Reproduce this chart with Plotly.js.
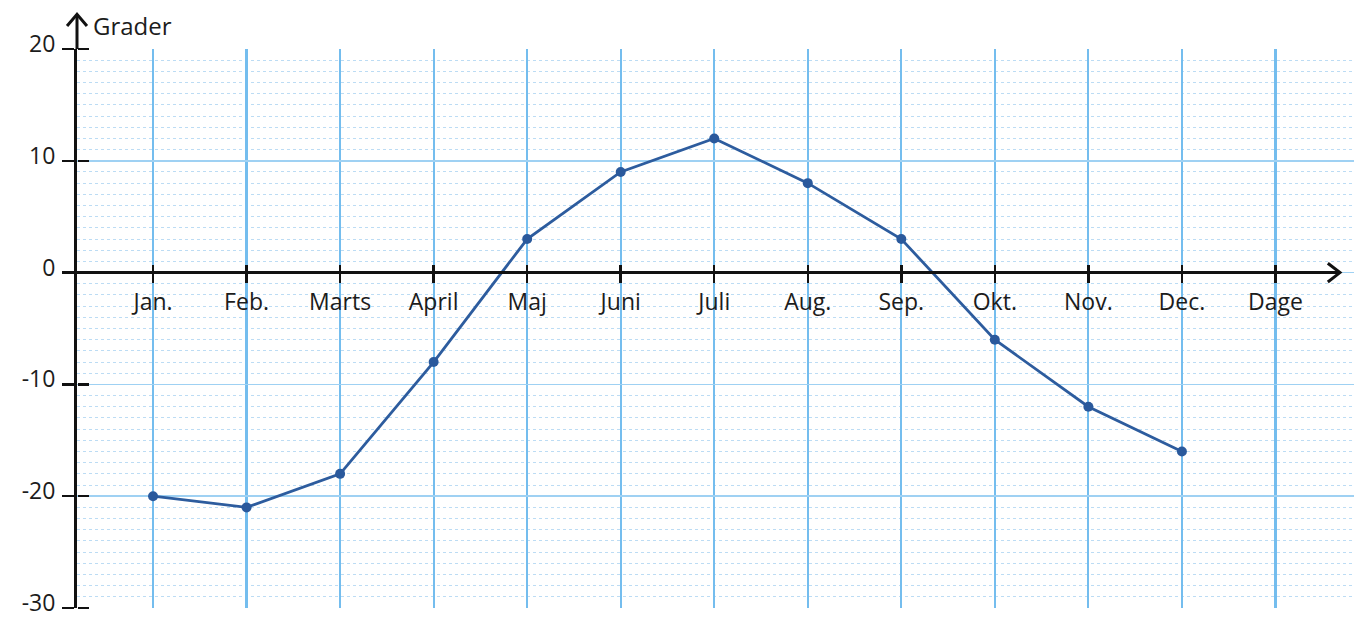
<!DOCTYPE html>
<html>
<head>
<meta charset="utf-8">
<script src="https://cdn.plot.ly/plotly-3.0.1.min.js"></script>
<style>html,body{margin:0;padding:0;background:#fff;}#chart{width:1354px;height:623px;}</style>
</head>
<body>
<div id="chart"></div>
<script>
const months = ["Jan.", "Feb.", "Marts", "April", "Maj", "Juni", "Juli", "Aug.", "Sep.", "Okt.", "Nov.", "Dec."];
const temperatures = [-20, -21, -18, -8, 3, 9, 12, 8, 3, -6, -12, -16];
const xTickText = months.concat(["Dage"]);
const yTickVals = [-30, -20, -10, 0, 10, 20];
const yTickText = ["-30", "-20", "-10", "0", "10", "20"];

const xIdx = months.map((m, i) => i + 1);
const xTickVals = xTickText.map((m, i) => i + 1);

const FONT = '"Open Sans", "DejaVu Sans", sans-serif';
const xRange = [0.187, 13.84];
const yRange = [-30, 20];

const traces = [
  {
    x: xIdx, y: temperatures, type: 'scatter', mode: 'lines+markers',
    line: {color: '#2d5c9e', width: 2.8},
    marker: {color: '#2a599c', size: 10},
    hoverinfo: 'skip', xaxis: 'x', yaxis: 'y', cliponaxis: false
  },
  {x: [xRange[0]], y: [yRange[0]], type: 'scatter', mode: 'markers', marker: {opacity: 0}, xaxis: 'x2', yaxis: 'y2', hoverinfo: 'skip', showlegend: false}
];

const layout = {
  width: 1354, height: 623,
  margin: {l: 77, r: 0, t: 49, b: 15, pad: 0},
  paper_bgcolor: '#ffffff', plot_bgcolor: '#ffffff',
  showlegend: false,
  font: {family: FONT, size: 23, color: '#1c1c1c'},
  xaxis: {
    range: xRange, anchor: 'free', position: 0.6,
    tickvals: xTickVals, ticktext: xTickText,
    showgrid: true, gridcolor: '#74bdee', gridwidth: 2.2,
    showline: false, zeroline: false,
    ticks: 'outside', ticklen: 9, tickwidth: 2.5, tickcolor: '#111',
    tickfont: {family: FONT, size: 23, color: '#1c1c1c'},
    ticklabeloverflow: 'allow',
    fixedrange: true
  },
  xaxis2: {
    range: xRange, overlaying: 'x', anchor: 'free', position: 0.6,
    tickvals: xTickVals, showticklabels: false,
    showgrid: false, showline: false, zeroline: false,
    ticks: 'inside', ticklen: 8, tickwidth: 2.5, tickcolor: '#111'
  },
  yaxis: {
    range: yRange, tickvals: yTickVals, ticktext: yTickText,
    showgrid: true, gridcolor: '#9fd1f3', gridwidth: 1.6,
    minor: {dtick: 1, showgrid: true, gridcolor: '#bcdcf4', griddash: 'dot', gridwidth: 1, ticks: ''},
    showline: true, linecolor: '#111', linewidth: 3,
    zeroline: false,
    ticks: 'outside', ticklen: 12, tickwidth: 2.5, tickcolor: '#111',
    ticklabelstandoff: 2,
    ticklabelshift: -5,
    ticklabeloverflow: 'allow',
    tickfont: {family: FONT, size: 23, color: '#1c1c1c'},
    fixedrange: true
  },
  yaxis2: {
    range: yRange, overlaying: 'y', side: 'right', anchor: 'free', position: 0,
    tickvals: yTickVals, showticklabels: false,
    showgrid: false, showline: false, zeroline: false,
    ticks: 'outside', ticklen: 11, tickwidth: 2.5, tickcolor: '#111'
  },
  shapes: [
    {type: 'line', xref: 'paper', yref: 'y', x0: -0.01, x1: 0.989, y0: 0, y1: 0, line: {color: '#111', width: 3}},
    {type: 'path', xref: 'paper', yref: 'paper', path: 'M 0.9795,0.6168 L 0.9890,0.6 L 0.9795,0.5832', line: {color: '#111', width: 3}},
    {type: 'line', xref: 'paper', yref: 'paper', x0: 0, x1: 0, y0: 1, y1: 1.062, line: {color: '#111', width: 3}},
    {type: 'path', xref: 'paper', yref: 'paper', path: 'M -0.0078,1.041 L 0,1.062 L 0.0078,1.041', line: {color: '#111', width: 3}}
  ],
  annotations: [
    {text: 'Grader', xref: 'paper', yref: 'paper', x: 0.011, y: 1.076, xanchor: 'left', yanchor: 'top', showarrow: false,
     font: {family: FONT, size: 24, color: '#1c1c1c'}}
  ]
};

Plotly.newPlot('chart', traces, layout, {staticPlot: true, displayModeBar: false});
</script>
</body>
</html>
